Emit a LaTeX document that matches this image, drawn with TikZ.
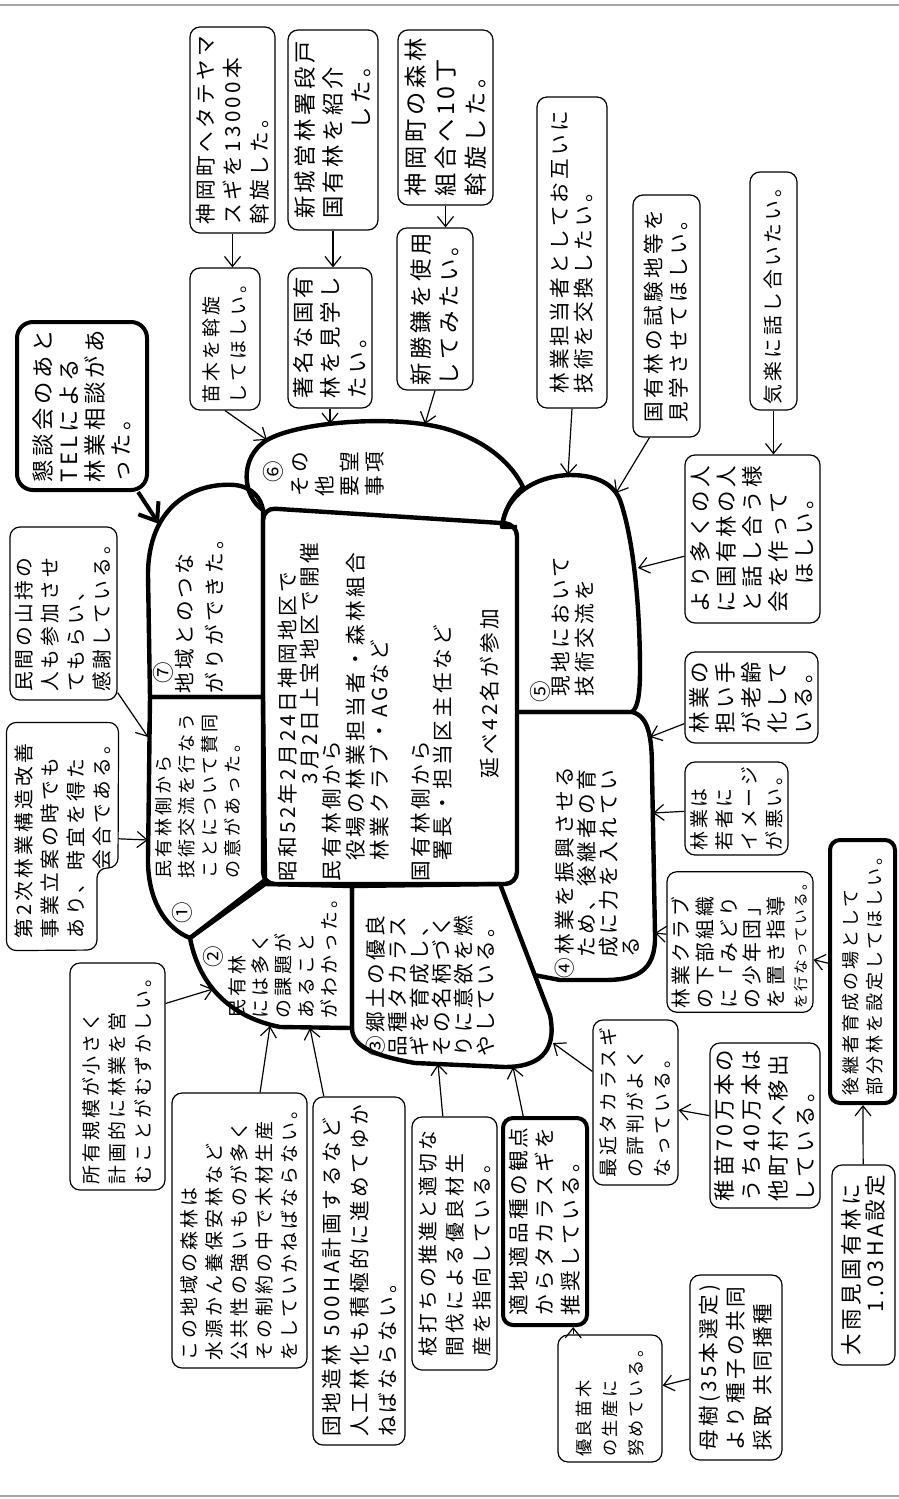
\documentclass[tikz,border=0pt]{standalone}
\usepackage{fontspec}
\newfontfamily\jp{Noto Sans CJK JP}[Scale=0.86, LetterSpace=16]
\usetikzlibrary{arrows.meta,calc}
\newcommand{\jpfs}[2]{\jp\fontsize{#1}{#2}\selectfont\lineskiplimit=-\maxdimen}

\begin{document}
\begin{tikzpicture}[x=0.5pt, y=-0.5pt,
  card/.style={draw, line width=0.6pt, rounded corners=5pt, rotate=90, align=left, inner sep=2pt},
  boldcard/.style={card, line width=2pt},
  lobe/.style={line width=2.2pt, line join=round},
  lobetext/.style={rotate=90, anchor=north west, inner sep=0pt, align=left},
  lobenum/.style={rotate=90, inner sep=0pt, font=\jpfs{12.5}{12.5}},
  arrow/.style={-{Straight Barb[length=5pt,width=8pt]}, line width=0.6pt},
  boldarrow/.style={-{Straight Barb[length=8pt,width=12pt]}, line width=2pt}
]
\useasboundingbox (0,0) rectangle (899,1499);
\draw[gray!70, line width=0.8pt] (0,5) -- (899,5);
\draw[gray!70, line width=0.8pt] (0,1496) -- (899,1496);

% lobes round the meeting box
\draw[lobe] (150,697) -- (148,575) .. controls (148,505) and (195,482) .. (235,485) .. controls (252,487) and (261,498) .. (263,510) -- (263,697) -- cycle;
\draw[lobe] (150,697) -- (263,697) -- (265,880) -- (190,938) .. controls (165,928) and (148,900) .. (148,860) -- cycle;
\draw[lobe] (190,938) -- (265,884) -- (352,886) -- (352,1028) -- (280,1027) .. controls (235,1018) and (200,990) .. (190,938);
\draw[lobe] (352,886) -- (500,884) -- (550,1015) .. controls (558,1055) and (535,1067) .. (505,1067) -- (415,1063) .. controls (370,1055) and (352,1045) .. (352,1028) -- cycle;
\draw[lobe] (517,712) -- (632,712) .. controls (648,716) and (652,735) .. (652,770) -- (655,935) .. controls (656,972) and (635,980) .. (605,980) -- (560,980) -- (534,975);
\draw[lobe] (517,527) -- (502,527) .. controls (505,495) and (535,476) .. (570,475) .. controls (598,475) and (614,485) .. (620,500) .. controls (634,540) and (640,610) .. (640,670) .. controls (640,698) and (637,708) .. (632,712) -- (517,712);
\draw[lobe] (263,510) .. controls (243,497) and (238,458) .. (267,440) .. controls (300,421) and (400,414) .. (450,430) .. controls (490,443) and (513,466) .. (523,487) .. controls (512,497) and (504,510) .. (502,527);
\draw[lobe, rounded corners=6pt] (263,508) -- (517,524) -- (517,884) -- (263,884) -- cycle;

\coordinate (c6a) at (267,440);
\coordinate (c6b) at (330,424);
\coordinate (c6c) at (425,424);
\coordinate (c5a) at (568,475);
\coordinate (c5b) at (616,493);
\coordinate (c5c) at (638,568);
\coordinate (c4a) at (650,737);
\coordinate (c4b) at (653,813);
\coordinate (c4c) at (655,933);
\coordinate (c3a) at (553,1043);
\coordinate (c3b) at (513,1067);
\coordinate (c3c) at (438,1064);
\coordinate (c2a) at (310,1028);
\coordinate (c2b) at (270,1026);
\coordinate (c2c) at (213,989);
\coordinate (c1a) at (148,840);
\coordinate (c1b) at (148,737);
\coordinate (c7a) at (159,524);

\node[lobetext, font=\jpfs{12}{11}] (meeting) at (278,882) {昭和52年2月24日神岡地区で\\\hspace*{4.7em}3月2日上宝地区で開催\\民有林側から\\[1pt]\hspace*{1em}役場の林業担当者・森林組合\\[1pt]\hspace*{1em}林業クラブ・AGなど\\[9.5pt]国有林側から\\\hspace*{1em}署長・担当区主任など\\[12.5pt]\hspace*{5em}延べ42名が参加};

\node[lobenum] (n1) at (182,913) {①};
\node[lobetext, font=\jpfs{10.5}{11.5}] (t1) at (155,879) {民有林側から\\技術交流を行なう\\ことについて賛同\\の意があった。};
\node[lobenum] (n2) at (213,957) {②};
\node[lobetext, font=\jpfs{11}{11.5}] (t2) at (228,1019) {民有林\\には多く\\の課題が\\あること\\がわかった。};
\node[lobetext, font=\jpfs{12}{11}] (t3) at (366,1057) {③郷土の優良\\品種タカラス\\ギを育成し、\\その名柄づく\\りに意欲を燃\\やしている。};
\node[lobetext, font=\jpfs{12}{11}] (t4) at (555,979) {④林業を振興させる\\\hspace*{1em}ため、後継者の育\\\hspace*{1em}成に力を入れてい\\\hspace*{1em}る};
\node[lobenum] (n5) at (540,692) {⑤};
\node[lobetext, font=\jpfs{12}{12}] (t5) at (551,697) {現地において\\技術交流を};
\node[lobenum] (n6) at (273,472) {⑥};
\node[lobetext, font=\jpfs{12}{12.5}] (t6) at (291,497) {その\\他\\要望\\事項};
\node[lobenum] (n7) at (163,673) {⑦};
\node[lobetext, font=\jpfs{12}{15}] (t7) at (175,694) {地域とのつな\\がりができた。};

\node[boldcard, rounded corners=8pt, minimum width=84pt, minimum height=65pt, font=\jpfs{13}{13}] (kondan) at (82,406) {懇談会のあと\\TELによる\\林業相談があ\\った。};
\node[card, minimum width=103pt, minimum height=42.5pt, font=\jpfs{12}{13.5}] (jin13000) at (232.5,130) {神岡町へタテヤマ\\スギを13000本\\斡旋した。};
\node[card, minimum width=71pt, minimum height=35pt, font=\jpfs{11}{13.5}] (naegi) at (225,339) {苗木を斡旋\\してほしい。};
\node[card, minimum width=100pt, minimum height=45pt, font=\jpfs{13}{14}] (shinjo) at (333,130) {新城営林署段戸\\国有林を紹介\\\hspace*{4em}した。};
\node[card, minimum width=70pt, minimum height=42pt, font=\jpfs{12.5}{13.5}] (chomei) at (330,338) {著名な国有\\林を見学し\\たい。};
\node[card, minimum width=87.5pt, minimum height=47.5pt, font=\jpfs{13.5}{15}] (jin10) at (445.5,117.5) {神岡町の森林\\組合へ10丁\\斡旋した。};
\node[card, minimum width=81pt, minimum height=38pt, font=\jpfs{13}{14}] (shinsho) at (435,309) {新勝鎌を使用\\してみたい。};
\node[card, minimum width=155.5pt, minimum height=35pt, font=\jpfs{12}{12}] (tanto) at (572,252.5) {林業担当者としてお互いに\\技術を交換したい。};
\node[card, minimum width=121pt, minimum height=33.5pt, font=\jpfs{12}{12.5}] (shiken) at (666.5,316) {国有林の試験地等を\\見学させてほしい。};
\node[card, minimum width=119pt, minimum height=23.5pt, font=\jpfs{11.5}{12}] (kiraku) at (773.5,291) {気楽に話し合いたい。};
\node[card, minimum width=84pt, minimum height=67.5pt, font=\jpfs{12.5}{13}] (yori) at (752.5,539) {より多くの人\\に国有林の人\\と話し合う様\\会を作って\\\hspace*{1.3em}ほしい。};
\node[card, minimum width=45.5pt, minimum height=66.5pt, font=\jpfs{12.5}{13}] (ninaite) at (751.5,697.5) {林業の\\担い手\\が老齢\\化して\\いる。};
\node[card, minimum width=46.5pt, minimum height=51.5pt, font=\jpfs{11}{12.5}] (wakamono) at (736.5,808.5) {林業は\\若者に\\イメージ\\が悪い。};
\node[card, minimum width=70pt, minimum height=73pt, font=\jpfs{11.5}{11.8}] (club) at (740,942) {林業クラブ\\の下部組織\\に「みどり\\の少年団」\\を置き指導\\{\fontsize{8.5}{9}\selectfont を行なっている。}};
\node[boldcard, minimum width=131.5pt, minimum height=32.5pt, font=\jpfs{10.5}{12}] (kokeisha) at (862.5,971.5) {後継者育成の場として\\部分林を設定してほしい。};
\node[card, minimum width=100pt, minimum height=31.5pt, font=\jpfs{12.5}{12}] (omiomi) at (863.5,1265) {大雨見国有林に\\\hspace*{2em}1.03HA設定};
\node[card, minimum width=82.5pt, minimum height=55pt, font=\jpfs{12.5}{13.5}] (suinae) at (765,1125.5) {稚苗70万本の\\うち40万本は\\他町村へ移出\\している。};
\node[card, minimum width=82.5pt, minimum height=42.5pt, font=\jpfs{11}{13.5}] (saikin) at (635.5,1102.5) {最近タカラスギ\\の評判がよく\\なっている。};
\node[boldcard, minimum width=103.5pt, minimum height=42pt, font=\jpfs{12}{13}] (tekichi) at (545,1221.5) {適地適品種の観点\\からタカラスギを\\推奨している。};
\node[card, minimum width=126.5pt, minimum height=42.5pt, font=\jpfs{11.5}{13.5}] (edauchi) at (454.5,1243.5) {枝打ちの推進と適切な\\間伐による優良材生\\産を指向している。};
\node[card, minimum width=174pt, minimum height=46pt, font=\jpfs{12}{14}] (danchi) at (359,1271) {団地造林 500HA計画するなど\\人工林化も積極的に進めてゆか\\ねばならない。};
\node[card, minimum width=137.5pt, minimum height=67.5pt, font=\jpfs{11}{12.5}] (kono) at (239.5,1230.5) {この地域の森林は\\水源かん養保安林など\\公共性の強いものが多く\\その制約の中で木材生産\\をしていかねばならない。};
\node[card, minimum width=113.5pt, minimum height=47.5pt, font=\jpfs{11}{13}] (shoyu) at (117.5,1076.5) {所有規模が小さく\\計画的に林業を営\\むことがむずかしい。};
\node[card, draw=none, minimum width=113.5pt, minimum height=55.5pt, font=\jpfs{11.5}{13}] (dai2) at (62.5,836.5) {第2次林業構造改善\\事業立案の時でも\\あり、時宜を得た\\\hspace*{3.5em}会合である。};
\draw[line width=0.6pt, rounded corners=5pt] (dai2.north west) -- (dai2.north east) -- (dai2.south east) -- (118,868) -- (97,868) -- (97,950) -- cycle;
\node[card, minimum width=86.5pt, minimum height=53.5pt, font=\jpfs{11.5}{13}] (minkan) at (63.5,613.5) {民間の山持の\\人も参加させ\\てもらい、\\感謝している。};
\node[card, minimum width=63.5pt, minimum height=52pt, font=\jpfs{10}{13}] (yuryo) at (610,1398.5) {優良苗木\\の生産に\\努めている。};
\node[card, minimum width=92.5pt, minimum height=46pt, font=\jpfs{12}{13.5}] (boju) at (736,1367.5) {母樹(35本選定)\\より種子の共同\\採取\hspace{0.5em}共同播種};

\draw[boldarrow] (kondan) -- (c7a);
\draw[arrow] (jin13000.west) -- (jin13000.west |- naegi.east);
\draw[arrow] (naegi.west) -- (c6a);
\draw[arrow] (shinjo.west) -- (shinjo.west |- chomei.east);
\draw[arrow] (chomei.west) -- (c6b);
\draw[arrow] (jin10.west) -- (jin10.west |- shinsho.east);
\draw[arrow] (shinsho.west) -- (c6c);
\draw[arrow] (tanto.west) -- (c5a);
\draw[arrow] ($(shiken.west)!0.5!(shiken.north west)$) -- (c5b);
\draw[arrow] (kiraku.west) -- (kiraku.west |- yori.east);
\draw[arrow] (yori) -- (c5c);
\draw[arrow] (ninaite) -- (c4a);
\draw[arrow] (wakamono) -- (c4b);
\draw[arrow] (club) -- (c4c);
\draw[arrow] (kokeisha) -- (club);
\draw[arrow] (omiomi) -- (kokeisha);
\draw[arrow] (suinae) -- (saikin);
\draw[arrow] (saikin) -- (c3a);
\draw[arrow] (tekichi) -- (c3b);
\draw[arrow] (edauchi) -- (c3c);
\draw[arrow] (danchi) -- (c2a);
\draw[arrow] (kono) -- (c2b);
\draw[arrow] ($(shoyu.south east)!0.18!(shoyu.south west)$) -- (c2c);
\draw[arrow] (dai2) -- (c1a);
\draw[arrow] (minkan) -- (c1b);
\draw[arrow] ($(yuryo.east)!0.7!(yuryo.north east)$) coordinate (yu) -- (yu |- tekichi.west);
\draw[arrow] (boju) -- (yuryo);
\end{tikzpicture}
\end{document}
